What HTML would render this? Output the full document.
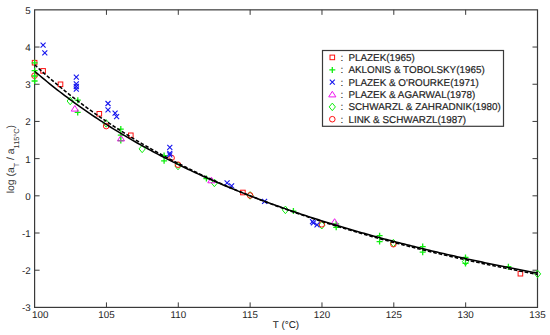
<!DOCTYPE html>
<html><head><meta charset="utf-8"><style>
html,body{margin:0;padding:0;background:#fff;}
svg{display:block;}
text{font-family:"Liberation Sans",sans-serif;fill:#1e1e1e;stroke:#1e1e1e;stroke-width:0.18px;text-rendering:geometricPrecision;}
</style></head><body>
<svg width="550" height="335" viewBox="0 0 550 335">
<rect width="550" height="335" fill="#fff"/>
<rect x="34.6" y="9.85" width="502.90" height="297.55" fill="none" stroke="#3a3a3a" stroke-width="1.2"/>
<path d="M106.44,307.4V302.4M106.44,9.85V14.85" stroke="#3a3a3a" stroke-width="1"/>
<path d="M178.29,307.4V302.4M178.29,9.85V14.85" stroke="#3a3a3a" stroke-width="1"/>
<path d="M250.13,307.4V302.4M250.13,9.85V14.85" stroke="#3a3a3a" stroke-width="1"/>
<path d="M321.97,307.4V302.4M321.97,9.85V14.85" stroke="#3a3a3a" stroke-width="1"/>
<path d="M393.81,307.4V302.4M393.81,9.85V14.85" stroke="#3a3a3a" stroke-width="1"/>
<path d="M465.66,307.4V302.4M465.66,9.85V14.85" stroke="#3a3a3a" stroke-width="1"/>
<path d="M34.6,270.21H39.6M537.5,270.21H532.5" stroke="#3a3a3a" stroke-width="1"/>
<path d="M34.6,233.01H39.6M537.5,233.01H532.5" stroke="#3a3a3a" stroke-width="1"/>
<path d="M34.6,195.82H39.6M537.5,195.82H532.5" stroke="#3a3a3a" stroke-width="1"/>
<path d="M34.6,158.62H39.6M537.5,158.62H532.5" stroke="#3a3a3a" stroke-width="1"/>
<path d="M34.6,121.43H39.6M537.5,121.43H532.5" stroke="#3a3a3a" stroke-width="1"/>
<path d="M34.6,84.24H39.6M537.5,84.24H532.5" stroke="#3a3a3a" stroke-width="1"/>
<path d="M34.6,47.04H39.6M537.5,47.04H532.5" stroke="#3a3a3a" stroke-width="1"/>
<rect x="32.30" y="60.40" width="4.6" height="4.6" fill="none" stroke="#ff1010" stroke-width="1"/>
<rect x="40.80" y="68.60" width="4.6" height="4.6" fill="none" stroke="#ff1010" stroke-width="1"/>
<rect x="58.20" y="82.00" width="4.6" height="4.6" fill="none" stroke="#ff1010" stroke-width="1"/>
<rect x="97.00" y="111.50" width="4.6" height="4.6" fill="none" stroke="#ff1010" stroke-width="1"/>
<rect x="128.50" y="133.00" width="4.6" height="4.6" fill="none" stroke="#ff1010" stroke-width="1"/>
<rect x="240.60" y="190.20" width="4.6" height="4.6" fill="none" stroke="#ff1010" stroke-width="1"/>
<rect x="518.10" y="271.40" width="4.6" height="4.6" fill="none" stroke="#ff1010" stroke-width="1"/>
<path d="M70.20,97.20L73.30,101.00L70.20,104.80L67.10,101.00Z" stroke="#10ee10" stroke-width="1" fill="none"/>
<path d="M106.20,119.60L109.30,123.40L106.20,127.20L103.10,123.40Z" stroke="#10ee10" stroke-width="1" fill="none"/>
<path d="M142.20,145.10L145.30,148.90L142.20,152.70L139.10,148.90Z" stroke="#10ee10" stroke-width="1" fill="none"/>
<path d="M178.00,162.20L181.10,166.00L178.00,169.80L174.90,166.00Z" stroke="#10ee10" stroke-width="1" fill="none"/>
<path d="M214.40,179.10L217.50,182.90L214.40,186.70L211.30,182.90Z" stroke="#10ee10" stroke-width="1" fill="none"/>
<path d="M250.10,191.60L253.20,195.40L250.10,199.20L247.00,195.40Z" stroke="#10ee10" stroke-width="1" fill="none"/>
<path d="M285.40,206.10L288.50,209.90L285.40,213.70L282.30,209.90Z" stroke="#10ee10" stroke-width="1" fill="none"/>
<path d="M321.80,221.40L324.90,225.20L321.80,229.00L318.70,225.20Z" stroke="#10ee10" stroke-width="1" fill="none"/>
<path d="M393.40,239.30L396.50,243.10L393.40,246.90L390.30,243.10Z" stroke="#10ee10" stroke-width="1" fill="none"/>
<path d="M465.50,257.80L468.60,261.60L465.50,265.40L462.40,261.60Z" stroke="#10ee10" stroke-width="1" fill="none"/>
<path d="M537.60,270.10L540.70,273.90L537.60,277.70L534.50,273.90Z" stroke="#10ee10" stroke-width="1" fill="none"/>
<circle cx="34.50" cy="75.70" r="2.8" fill="none" stroke="#ff1010" stroke-width="1"/>
<circle cx="106.20" cy="126.10" r="2.8" fill="none" stroke="#ff1010" stroke-width="1"/>
<circle cx="171.60" cy="157.90" r="2.8" fill="none" stroke="#ff1010" stroke-width="1"/>
<circle cx="178.00" cy="164.70" r="2.8" fill="none" stroke="#ff1010" stroke-width="1"/>
<circle cx="250.10" cy="195.40" r="2.8" fill="none" stroke="#ff1010" stroke-width="1"/>
<circle cx="321.80" cy="224.30" r="2.8" fill="none" stroke="#ff1010" stroke-width="1"/>
<circle cx="393.40" cy="244.20" r="2.8" fill="none" stroke="#ff1010" stroke-width="1"/>
<path d="M40.60,42.60L45.60,47.60M40.60,47.60L45.60,42.60" stroke="#1515ee" stroke-width="1.1" fill="none"/>
<path d="M42.30,50.40L47.30,55.40M42.30,55.40L47.30,50.40" stroke="#1515ee" stroke-width="1.1" fill="none"/>
<path d="M73.80,74.60L78.80,79.60M73.80,79.60L78.80,74.60" stroke="#1515ee" stroke-width="1.1" fill="none"/>
<path d="M73.80,81.40L78.80,86.40M73.80,86.40L78.80,81.40" stroke="#1515ee" stroke-width="1.1" fill="none"/>
<path d="M73.80,84.00L78.80,89.00M73.80,89.00L78.80,84.00" stroke="#1515ee" stroke-width="1.1" fill="none"/>
<path d="M73.80,86.70L78.80,91.70M73.80,91.70L78.80,86.70" stroke="#1515ee" stroke-width="1.1" fill="none"/>
<path d="M105.50,101.00L110.50,106.00M105.50,106.00L110.50,101.00" stroke="#1515ee" stroke-width="1.1" fill="none"/>
<path d="M105.50,107.40L110.50,112.40M105.50,112.40L110.50,107.40" stroke="#1515ee" stroke-width="1.1" fill="none"/>
<path d="M112.60,110.70L117.60,115.70M112.60,115.70L117.60,110.70" stroke="#1515ee" stroke-width="1.1" fill="none"/>
<path d="M114.10,114.10L119.10,119.10M114.10,119.10L119.10,114.10" stroke="#1515ee" stroke-width="1.1" fill="none"/>
<path d="M167.30,144.80L172.30,149.80M167.30,149.80L172.30,144.80" stroke="#1515ee" stroke-width="1.1" fill="none"/>
<path d="M167.30,150.90L172.30,155.90M167.30,155.90L172.30,150.90" stroke="#1515ee" stroke-width="1.1" fill="none"/>
<path d="M167.30,152.30L172.30,157.30M167.30,157.30L172.30,152.30" stroke="#1515ee" stroke-width="1.1" fill="none"/>
<path d="M224.60,180.30L229.60,185.30M224.60,185.30L229.60,180.30" stroke="#1515ee" stroke-width="1.1" fill="none"/>
<path d="M229.10,183.40L234.10,188.40M229.10,188.40L234.10,183.40" stroke="#1515ee" stroke-width="1.1" fill="none"/>
<path d="M262.10,198.80L267.10,203.80M262.10,203.80L267.10,198.80" stroke="#1515ee" stroke-width="1.1" fill="none"/>
<path d="M310.00,219.10L315.00,224.10M310.00,224.10L315.00,219.10" stroke="#1515ee" stroke-width="1.1" fill="none"/>
<path d="M310.90,220.40L315.90,225.40M310.90,225.40L315.90,220.40" stroke="#1515ee" stroke-width="1.1" fill="none"/>
<path d="M314.50,222.40L319.50,227.40M314.50,227.40L319.50,222.40" stroke="#1515ee" stroke-width="1.1" fill="none"/>
<path d="M31.60,62.80H37.60M34.60,59.80V65.80" stroke="#10ee10" stroke-width="1.3" fill="none"/>
<path d="M31.60,70.70H37.60M34.60,67.70V73.70" stroke="#10ee10" stroke-width="1.3" fill="none"/>
<path d="M31.60,76.00H37.60M34.60,73.00V79.00" stroke="#10ee10" stroke-width="1.3" fill="none"/>
<path d="M31.60,81.00H37.60M34.60,78.00V84.00" stroke="#10ee10" stroke-width="1.3" fill="none"/>
<path d="M74.80,100.20H80.80M77.80,97.20V103.20" stroke="#10ee10" stroke-width="1.3" fill="none"/>
<path d="M74.70,112.40H80.70M77.70,109.40V115.40" stroke="#10ee10" stroke-width="1.3" fill="none"/>
<path d="M117.80,129.10H123.80M120.80,126.10V132.10" stroke="#10ee10" stroke-width="1.3" fill="none"/>
<path d="M117.80,135.20H123.80M120.80,132.20V138.20" stroke="#10ee10" stroke-width="1.3" fill="none"/>
<path d="M117.80,140.60H123.80M120.80,137.60V143.60" stroke="#10ee10" stroke-width="1.3" fill="none"/>
<path d="M161.10,155.60H167.10M164.10,152.60V158.60" stroke="#10ee10" stroke-width="1.3" fill="none"/>
<path d="M161.10,160.80H167.10M164.10,157.80V163.80" stroke="#10ee10" stroke-width="1.3" fill="none"/>
<path d="M203.40,178.50H209.40M206.40,175.50V181.50" stroke="#10ee10" stroke-width="1.3" fill="none"/>
<path d="M290.40,211.10H296.40M293.40,208.10V214.10" stroke="#10ee10" stroke-width="1.3" fill="none"/>
<path d="M333.20,224.00H339.20M336.20,221.00V227.00" stroke="#10ee10" stroke-width="1.3" fill="none"/>
<path d="M333.20,227.30H339.20M336.20,224.30V230.30" stroke="#10ee10" stroke-width="1.3" fill="none"/>
<path d="M376.60,235.70H382.60M379.60,232.70V238.70" stroke="#10ee10" stroke-width="1.3" fill="none"/>
<path d="M376.60,241.60H382.60M379.60,238.60V244.60" stroke="#10ee10" stroke-width="1.3" fill="none"/>
<path d="M419.70,246.60H425.70M422.70,243.60V249.60" stroke="#10ee10" stroke-width="1.3" fill="none"/>
<path d="M419.70,252.20H425.70M422.70,249.20V255.20" stroke="#10ee10" stroke-width="1.3" fill="none"/>
<path d="M462.50,257.40H468.50M465.50,254.40V260.40" stroke="#10ee10" stroke-width="1.3" fill="none"/>
<path d="M462.50,263.40H468.50M465.50,260.40V266.40" stroke="#10ee10" stroke-width="1.3" fill="none"/>
<path d="M505.40,266.70H511.40M508.40,263.70V269.70" stroke="#10ee10" stroke-width="1.3" fill="none"/>
<path d="M74.80,105.50L78.40,111.10L71.20,111.10Z" stroke="#ee15ee" stroke-width="1" fill="none"/>
<path d="M121.00,135.30L124.60,140.90L117.40,140.90Z" stroke="#ee15ee" stroke-width="1" fill="none"/>
<path d="M211.40,177.20L215.00,182.80L207.80,182.80Z" stroke="#ee15ee" stroke-width="1" fill="none"/>
<path d="M334.60,218.70L338.20,224.30L331.00,224.30Z" stroke="#ee15ee" stroke-width="1" fill="none"/>
<path d="M34.60,64.73 L37.11,67.05 L39.63,69.34 L42.14,71.60 L44.66,73.83 L47.17,76.04 L49.69,78.22 L52.20,80.38 L54.72,82.51 L57.23,84.62 L59.75,86.70 L62.26,88.76 L64.77,90.79 L67.29,92.81 L69.80,94.80 L72.32,96.76 L74.83,98.71 L77.35,100.63 L79.86,102.53 L82.38,104.41 L84.89,106.28 L87.40,108.12 L89.92,109.94 L92.43,111.74 L94.95,113.52 L97.46,115.28 L99.98,117.03 L102.49,118.75 L105.01,120.46 L107.52,122.15 L110.03,123.83 L112.55,125.48 L115.06,127.12 L117.58,128.74 L120.09,130.35 L122.61,131.94 L125.12,133.51 L127.64,135.07 L130.15,136.61 L132.67,138.14 L135.18,139.65 L137.69,141.15 L140.21,142.63 L142.72,144.10 L145.24,145.55 L147.75,147.00 L150.27,148.42 L152.78,149.83 L155.30,151.23 L157.81,152.62 L160.32,153.99 L162.84,155.36 L165.35,156.70 L167.87,158.04 L170.38,159.36 L172.90,160.67 L175.41,161.97 L177.93,163.26 L180.44,164.54 L182.96,165.80 L185.47,167.05 L187.98,168.29 L190.50,169.53 L193.01,170.75 L195.53,171.95 L198.04,173.15 L200.56,174.34 L203.07,175.52 L205.59,176.69 L208.10,177.85 L210.61,178.99 L213.13,180.13 L215.64,181.26 L218.16,182.38 L220.67,183.49 L223.19,184.59 L225.70,185.68 L228.22,186.76 L230.73,187.83 L233.25,188.90 L235.76,189.95 L238.27,191.00 L240.79,192.04 L243.30,193.07 L245.82,194.09 L248.33,195.10 L250.85,196.11 L253.36,197.10 L255.88,198.09 L258.39,199.07 L260.90,200.05 L263.42,201.01 L265.93,201.97 L268.45,202.92 L270.96,203.86 L273.48,204.80 L275.99,205.73 L278.51,206.65 L281.02,207.56 L283.54,208.47 L286.05,209.37 L288.56,210.27 L291.08,211.15 L293.59,212.03 L296.11,212.91 L298.62,213.78 L301.14,214.64 L303.65,215.49 L306.17,216.34 L308.68,217.18 L311.19,218.02 L313.71,218.85 L316.22,219.67 L318.74,220.49 L321.25,221.30 L323.77,222.11 L326.28,222.91 L328.80,223.70 L331.31,224.49 L333.83,225.28 L336.34,226.05 L338.85,226.83 L341.37,227.59 L343.88,228.35 L346.40,229.11 L348.91,229.86 L351.43,230.61 L353.94,231.35 L356.46,232.08 L358.97,232.82 L361.49,233.54 L364.00,234.26 L366.51,234.98 L369.03,235.69 L371.54,236.40 L374.06,237.10 L376.57,237.79 L379.09,238.49 L381.60,239.17 L384.12,239.86 L386.63,240.54 L389.14,241.21 L391.66,241.88 L394.17,242.54 L396.69,243.21 L399.20,243.86 L401.72,244.51 L404.23,245.16 L406.75,245.81 L409.26,246.45 L411.78,247.08 L414.29,247.71 L416.80,248.34 L419.32,248.97 L421.83,249.59 L424.35,250.20 L426.86,250.81 L429.38,251.42 L431.89,252.03 L434.41,252.63 L436.92,253.23 L439.43,253.82 L441.95,254.41 L444.46,255.00 L446.98,255.58 L449.49,256.16 L452.01,256.73 L454.52,257.30 L457.04,257.87 L459.55,258.44 L462.06,259.00 L464.58,259.56 L467.09,260.11 L469.61,260.67 L472.12,261.21 L474.64,261.76 L477.15,262.30 L479.67,262.84 L482.18,263.38 L484.70,263.91 L487.21,264.44 L489.72,264.96 L492.24,265.49 L494.75,266.01 L497.27,266.53 L499.78,267.04 L502.30,267.55 L504.81,268.06 L507.33,268.57 L509.84,269.07 L512.36,269.57 L514.87,270.07 L517.38,270.56 L519.90,271.05 L522.41,271.54 L524.93,272.03 L527.44,272.51 L529.96,272.99 L532.47,273.47 L534.99,273.94 L537.50,274.42" stroke="#000" stroke-width="1.55" fill="none" stroke-dasharray="3.6,1.9"/>
<path d="M34.60,71.23 L37.11,73.39 L39.63,75.52 L42.14,77.63 L44.66,79.71 L47.17,81.77 L49.69,83.81 L52.20,85.83 L54.72,87.82 L57.23,89.79 L59.75,91.75 L62.26,93.68 L64.77,95.58 L67.29,97.47 L69.80,99.34 L72.32,101.19 L74.83,103.02 L77.35,104.83 L79.86,106.62 L82.38,108.39 L84.89,110.15 L87.40,111.88 L89.92,113.60 L92.43,115.30 L94.95,116.99 L97.46,118.65 L99.98,120.30 L102.49,121.94 L105.01,123.56 L107.52,125.16 L110.03,126.74 L112.55,128.32 L115.06,129.87 L117.58,131.41 L120.09,132.94 L122.61,134.45 L125.12,135.94 L127.64,137.43 L130.15,138.90 L132.67,140.35 L135.18,141.79 L137.69,143.22 L140.21,144.63 L142.72,146.03 L145.24,147.42 L147.75,148.80 L150.27,150.16 L152.78,151.51 L155.30,152.85 L157.81,154.18 L160.32,155.49 L162.84,156.80 L165.35,158.09 L167.87,159.37 L170.38,160.64 L172.90,161.90 L175.41,163.14 L177.93,164.38 L180.44,165.61 L182.96,166.82 L185.47,168.03 L187.98,169.22 L190.50,170.40 L193.01,171.58 L195.53,172.74 L198.04,173.90 L200.56,175.04 L203.07,176.18 L205.59,177.31 L208.10,178.42 L210.61,179.53 L213.13,180.63 L215.64,181.72 L218.16,182.80 L220.67,183.87 L223.19,184.94 L225.70,185.99 L228.22,187.04 L230.73,188.08 L233.25,189.11 L235.76,190.13 L238.27,191.14 L240.79,192.15 L243.30,193.15 L245.82,194.14 L248.33,195.12 L250.85,196.10 L253.36,197.06 L255.88,198.03 L258.39,198.98 L260.90,199.92 L263.42,200.86 L265.93,201.80 L268.45,202.72 L270.96,203.64 L273.48,204.55 L275.99,205.45 L278.51,206.35 L281.02,207.24 L283.54,208.13 L286.05,209.01 L288.56,209.88 L291.08,210.74 L293.59,211.60 L296.11,212.45 L298.62,213.30 L301.14,214.14 L303.65,214.98 L306.17,215.81 L308.68,216.63 L311.19,217.45 L313.71,218.26 L316.22,219.06 L318.74,219.86 L321.25,220.66 L323.77,221.45 L326.28,222.23 L328.80,223.01 L331.31,223.78 L333.83,224.55 L336.34,225.31 L338.85,226.07 L341.37,226.82 L343.88,227.57 L346.40,228.31 L348.91,229.05 L351.43,229.78 L353.94,230.51 L356.46,231.23 L358.97,231.95 L361.49,232.66 L364.00,233.37 L366.51,234.08 L369.03,234.77 L371.54,235.47 L374.06,236.16 L376.57,236.84 L379.09,237.53 L381.60,238.20 L384.12,238.88 L386.63,239.54 L389.14,240.21 L391.66,240.87 L394.17,241.52 L396.69,242.18 L399.20,242.82 L401.72,243.47 L404.23,244.11 L406.75,244.74 L409.26,245.37 L411.78,246.00 L414.29,246.62 L416.80,247.24 L419.32,247.86 L421.83,248.47 L424.35,249.08 L426.86,249.69 L429.38,250.29 L431.89,250.89 L434.41,251.48 L436.92,252.07 L439.43,252.66 L441.95,253.24 L444.46,253.82 L446.98,254.40 L449.49,254.97 L452.01,255.54 L454.52,256.11 L457.04,256.67 L459.55,257.23 L462.06,257.79 L464.58,258.34 L467.09,258.89 L469.61,259.44 L472.12,259.98 L474.64,260.52 L477.15,261.06 L479.67,261.60 L482.18,262.13 L484.70,262.66 L487.21,263.18 L489.72,263.70 L492.24,264.22 L494.75,264.74 L497.27,265.25 L499.78,265.77 L502.30,266.27 L504.81,266.78 L507.33,267.28 L509.84,267.78 L512.36,268.28 L514.87,268.77 L517.38,269.27 L519.90,269.75 L522.41,270.24 L524.93,270.72 L527.44,271.21 L529.96,271.68 L532.47,272.16 L534.99,272.63 L537.50,273.10" stroke="#000" stroke-width="1.55" fill="none"/>
<rect x="322.5" y="50.5" width="181.0" height="75.8" fill="#fff" stroke="#3a3a3a" stroke-width="1.2"/>
<rect x="330.00" y="55.10" width="4.6" height="4.6" fill="none" stroke="#ff1010" stroke-width="1"/>
<text x="340.6" y="60.90" font-size="9.9">:</text>
<text x="348.4" y="60.90" font-size="9.9">PLAZEK(1965)</text>
<path d="M329.30,69.90H335.30M332.30,66.90V72.90" stroke="#10ee10" stroke-width="1.3" fill="none"/>
<text x="340.6" y="73.40" font-size="9.9">:</text>
<text x="348.4" y="73.40" font-size="9.9">AKLONIS &amp; TOBOLSKY(1965)</text>
<path d="M329.80,79.70L334.80,84.70M329.80,84.70L334.80,79.70" stroke="#1515ee" stroke-width="1.1" fill="none"/>
<text x="340.6" y="85.70" font-size="9.9">:</text>
<text x="348.4" y="85.70" font-size="9.9">PLAZEK &amp; O'ROURKE(1971)</text>
<path d="M332.30,91.30L335.90,96.90L328.70,96.90Z" stroke="#ee15ee" stroke-width="1" fill="none"/>
<text x="340.6" y="97.70" font-size="9.9">:</text>
<text x="348.4" y="97.70" font-size="9.9">PLAZEK &amp; AGARWAL(1978)</text>
<path d="M332.30,103.10L335.40,106.90L332.30,110.70L329.20,106.90Z" stroke="#10ee10" stroke-width="1" fill="none"/>
<text x="340.6" y="110.40" font-size="9.9">:</text>
<text x="348.4" y="110.40" font-size="9.9">SCHWARZL &amp; ZAHRADNIK(1980)</text>
<circle cx="332.30" cy="119.20" r="2.8" fill="none" stroke="#ff1010" stroke-width="1"/>
<text x="340.6" y="122.70" font-size="9.9">:</text>
<text x="348.4" y="122.70" font-size="9.9">LINK &amp; SCHWARZL(1987)</text>
<text x="40.20" y="318.1" text-anchor="middle" font-size="9.8" style="stroke-width:0">100</text>
<text x="106.44" y="318.1" text-anchor="middle" font-size="9.8" style="stroke-width:0">105</text>
<text x="178.29" y="318.1" text-anchor="middle" font-size="9.8" style="stroke-width:0">110</text>
<text x="250.13" y="318.1" text-anchor="middle" font-size="9.8" style="stroke-width:0">115</text>
<text x="321.97" y="318.1" text-anchor="middle" font-size="9.8" style="stroke-width:0">120</text>
<text x="393.81" y="318.1" text-anchor="middle" font-size="9.8" style="stroke-width:0">125</text>
<text x="465.66" y="318.1" text-anchor="middle" font-size="9.8" style="stroke-width:0">130</text>
<text x="537.50" y="318.1" text-anchor="middle" font-size="9.8" style="stroke-width:0">135</text>
<text x="30.6" y="311.30" text-anchor="end" font-size="9.8" style="stroke-width:0">-3</text>
<text x="30.6" y="274.11" text-anchor="end" font-size="9.8" style="stroke-width:0">-2</text>
<text x="30.6" y="236.91" text-anchor="end" font-size="9.8" style="stroke-width:0">-1</text>
<text x="30.6" y="199.72" text-anchor="end" font-size="9.8" style="stroke-width:0">0</text>
<text x="30.6" y="162.52" text-anchor="end" font-size="9.8" style="stroke-width:0">1</text>
<text x="30.6" y="125.33" text-anchor="end" font-size="9.8" style="stroke-width:0">2</text>
<text x="30.6" y="88.14" text-anchor="end" font-size="9.8" style="stroke-width:0">3</text>
<text x="30.6" y="50.94" text-anchor="end" font-size="9.8" style="stroke-width:0">4</text>
<text x="30.6" y="13.75" text-anchor="end" font-size="9.8" style="stroke-width:0">5</text>
<text x="286" y="327.8" text-anchor="middle" font-size="9.9" style="stroke-width:0.05px">T (°C)</text>
<text transform="translate(14.3,159.2) rotate(-90)" text-anchor="middle" font-size="10.4" style="stroke-width:0;fill:#333">log (a<tspan font-size="7.3" dy="4.4">T</tspan><tspan dy="-4.4"> / a</tspan><tspan font-size="7.3" dy="4.4">115°C</tspan><tspan dy="-4.4">)</tspan></text>
</svg>
</body></html>
